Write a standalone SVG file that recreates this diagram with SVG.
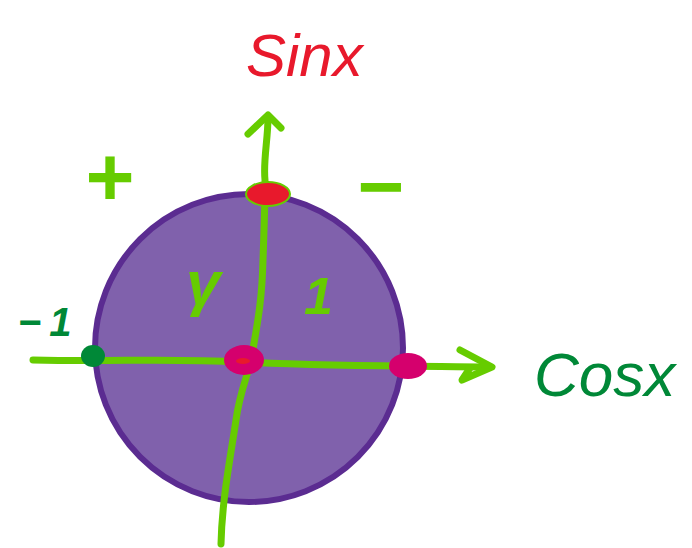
<svg xmlns="http://www.w3.org/2000/svg" width="692" height="548" viewBox="0 0 692 548">
<style>
.g{fill:none;stroke:#66CC00;stroke-width:7;stroke-linecap:round;stroke-linejoin:round}
.lbl{font-family:"Liberation Sans","DejaVu Sans",sans-serif;font-style:italic}
.sym{font-family:"Liberation Sans","DejaVu Sans",sans-serif;font-weight:bold;fill:#66CC00;text-anchor:middle}
</style>
<rect width="692" height="548" fill="#ffffff"/>
<g id="circle">
<circle cx="249" cy="348" r="154" fill="#8061AC" stroke="#5B2C91" stroke-width="6"/>
</g>
<g id="connectors">
<path class="g" d="M33 360 C120 362 160 358 243 362 C320 366 400 366 490 367"/>
<path class="g" d="M460 350 L492 367 L462 380 L470 368"/>
<path class="g" d="M221 544 C222 500 230 460 236 420 C240 390 250 370 252 355 C258 320 262 300 263 260 C264 230 265 210 265 180 C263 160 268 140 268 117"/>
<path class="g" d="M248 134 L268 115 L281 128"/>
</g>
<g id="dot-left"><ellipse cx="93" cy="356" rx="12" ry="11" fill="#008837"/></g>
<g id="dot-top"><ellipse cx="268" cy="194" rx="22" ry="12" fill="#E8192C" stroke="#66CC00" stroke-width="2"/></g>
<g id="dot-center"><ellipse cx="244" cy="360" rx="20" ry="15" fill="#D5006D"/><ellipse cx="243" cy="361" rx="7" ry="3" fill="#E8192C"/></g>
<g id="dot-right"><ellipse cx="408" cy="366" rx="19" ry="13" fill="#D5006D"/></g>
<g id="labels">
<text class="lbl" x="246" y="76" font-size="60" fill="#E8192C">Sinx</text>
<text class="lbl" x="534" y="396" font-size="62" fill="#008837">Cosx</text>
<text class="sym" x="110" y="206" font-size="84">+</text>
<text class="sym" x="381" y="214" font-size="80">−</text>
<text class="lbl" x="18" y="336" font-size="40" font-weight="bold" fill="#008837" letter-spacing="8">−1</text>
<text class="lbl" x="186" y="304" font-size="62" font-weight="bold" fill="#66CC00">γ</text>
<text class="lbl" x="304" y="314" font-size="52" font-weight="bold" fill="#66CC00">1</text>
</g>
</svg>
